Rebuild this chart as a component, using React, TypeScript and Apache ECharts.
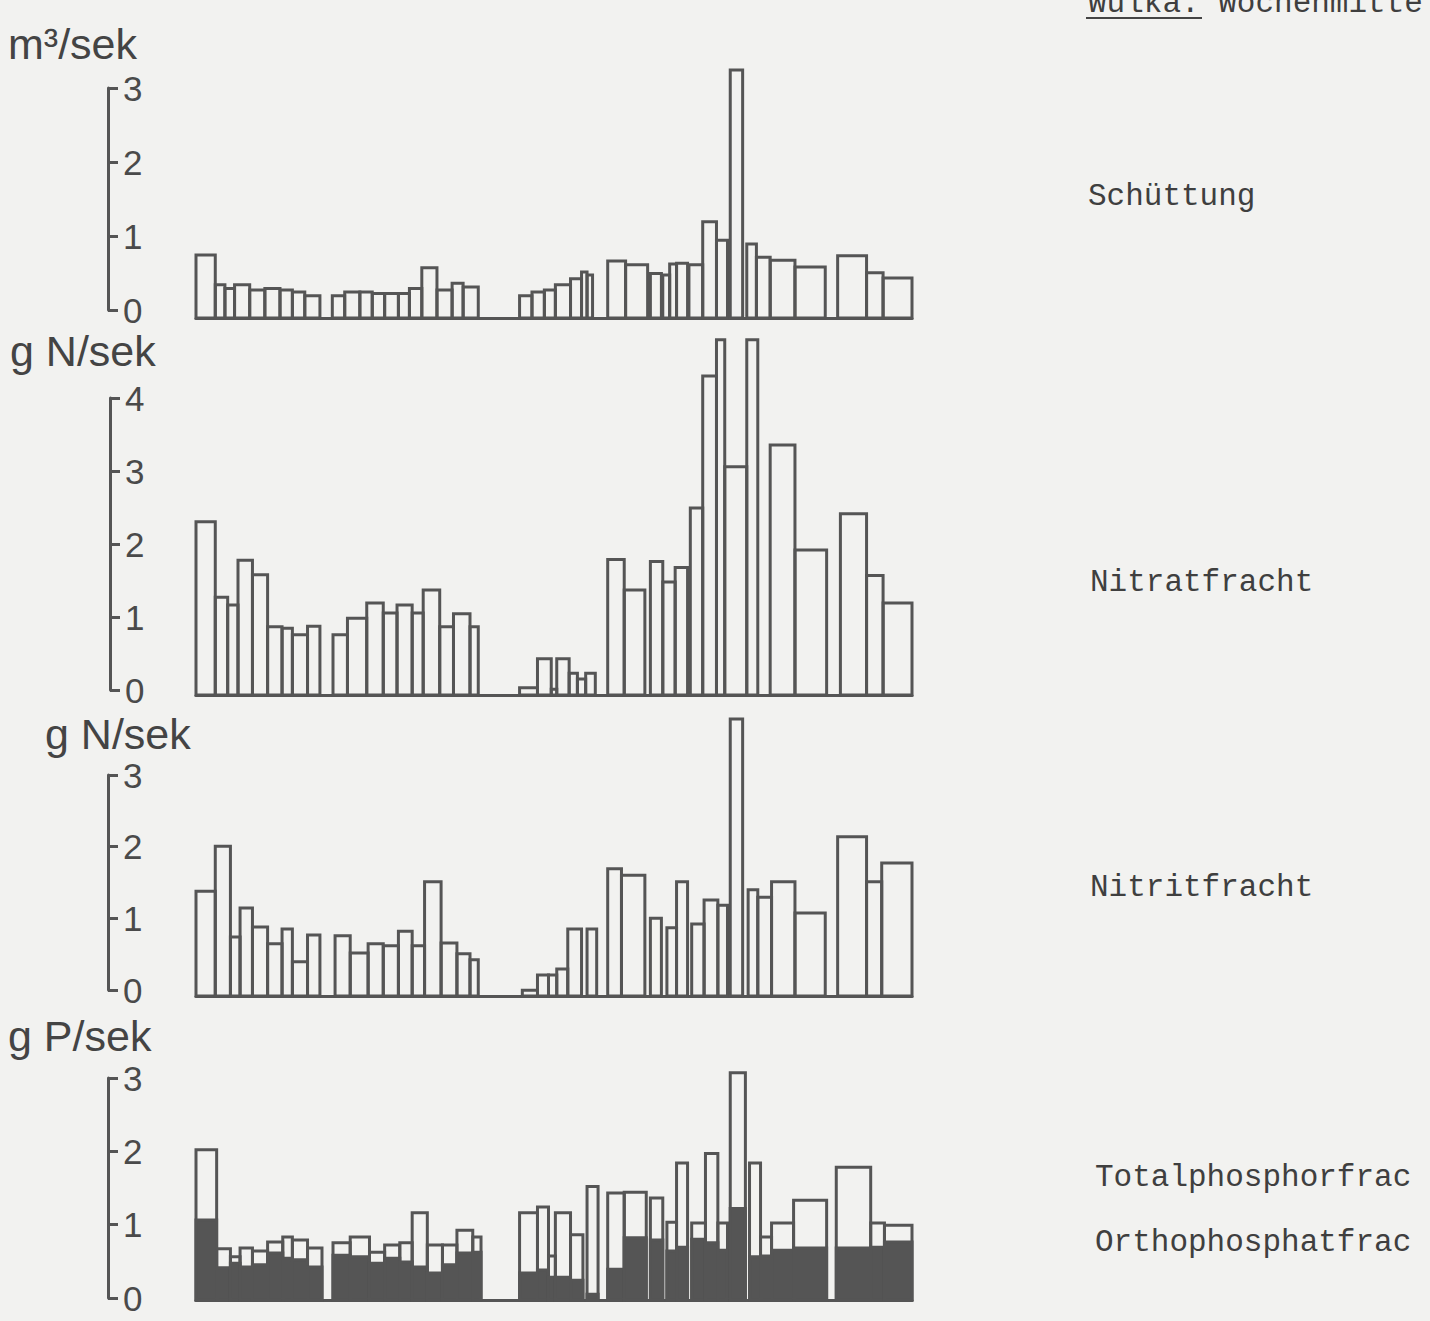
import React, { useEffect, useRef } from "react";
import * as echarts from "echarts";

// x in weeks (0..52), bars: [startWeek, endWeek, value]
const WEEKS = 52;

const schuettung: number[][] = [
  [0, 1.4, 0.85], [1.4, 2.1, 0.45], [2.1, 2.8, 0.4], [2.8, 3.9, 0.45], [3.9, 5.0, 0.38],
  [5.0, 6.1, 0.4], [6.1, 7.0, 0.38], [7.0, 7.9, 0.35], [7.9, 9.0, 0.3],
  [9.9, 10.8, 0.3], [10.8, 11.9, 0.35], [11.9, 12.8, 0.35], [12.8, 13.7, 0.33], [13.7, 14.7, 0.33],
  [14.7, 15.5, 0.33], [15.5, 16.4, 0.4], [16.4, 17.5, 0.68], [17.5, 18.6, 0.38], [18.6, 19.4, 0.47],
  [19.4, 20.5, 0.42],
  [23.5, 24.4, 0.3], [24.4, 25.3, 0.35], [25.3, 26.1, 0.38], [26.1, 27.2, 0.45], [27.2, 28.0, 0.53],
  [28.0, 28.4, 0.62], [28.4, 28.8, 0.58],
  [29.9, 31.2, 0.77], [31.2, 32.8, 0.72], [33.0, 33.8, 0.6], [33.9, 34.4, 0.58], [34.4, 34.9, 0.73],
  [34.9, 35.7, 0.74], [35.8, 36.8, 0.72], [36.8, 37.8, 1.3], [37.8, 38.6, 1.05], [38.8, 39.7, 3.35],
  [40.0, 40.7, 1.0], [40.7, 41.7, 0.82], [41.7, 43.5, 0.78], [43.5, 45.7, 0.69],
  [46.6, 48.7, 0.84], [48.7, 49.9, 0.61], [49.9, 52.0, 0.54],
];

const nitrat: number[][] = [
  [0, 1.4, 2.39], [1.4, 2.3, 1.35], [2.3, 3.05, 1.24], [3.05, 4.1, 1.86], [4.1, 5.2, 1.66],
  [5.2, 6.25, 0.94], [6.25, 7.0, 0.92], [7.0, 8.1, 0.83], [8.1, 9.0, 0.95],
  [9.95, 11.0, 0.83], [11.0, 12.4, 1.06], [12.4, 13.6, 1.27], [13.6, 14.6, 1.13], [14.6, 15.7, 1.24],
  [15.7, 16.5, 1.13], [16.5, 17.7, 1.45], [17.7, 18.7, 0.94], [18.7, 19.9, 1.12], [19.9, 20.5, 0.94],
  [23.5, 24.8, 0.1], [24.8, 25.8, 0.5], [25.8, 26.2, 0.08], [26.2, 27.1, 0.5], [27.1, 27.7, 0.3],
  [27.7, 28.3, 0.22], [28.3, 29.0, 0.3],
  [29.9, 31.1, 1.87], [31.1, 32.6, 1.45], [33.0, 33.9, 1.84], [33.9, 34.8, 1.56], [34.8, 35.7, 1.76],
  [35.9, 36.8, 2.58], [36.8, 37.8, 4.4], [37.8, 38.4, 4.9], [38.4, 40.0, 3.15], [40.0, 40.8, 4.9],
  [41.7, 43.5, 3.45], [43.5, 45.8, 2.0],
  [46.8, 48.7, 2.5], [48.7, 49.9, 1.65], [49.9, 52.0, 1.27],
];

const nitrit: number[][] = [
  [0, 1.4, 1.44], [1.4, 2.5, 2.06], [2.5, 3.2, 0.81], [3.2, 4.1, 1.21], [4.1, 5.2, 0.95],
  [5.2, 6.25, 0.72], [6.25, 7.0, 0.92], [7.0, 8.1, 0.47], [8.1, 9.0, 0.84],
  [10.1, 11.2, 0.83], [11.2, 12.5, 0.59], [12.5, 13.6, 0.72], [13.6, 14.7, 0.69], [14.7, 15.7, 0.89],
  [15.7, 16.6, 0.69], [16.6, 17.8, 1.57], [17.8, 18.95, 0.73], [18.95, 19.9, 0.58], [19.9, 20.5, 0.5],
  [23.7, 24.8, 0.08], [24.8, 25.6, 0.29], [25.6, 26.2, 0.29], [26.2, 27.0, 0.37], [27.0, 28.0, 0.92],
  [28.4, 29.1, 0.92],
  [29.9, 30.9, 1.75], [30.9, 32.6, 1.66], [33.0, 33.8, 1.07], [34.2, 34.9, 0.94], [34.9, 35.7, 1.57],
  [36.0, 36.9, 0.99], [36.9, 37.9, 1.32], [37.9, 38.6, 1.25], [38.8, 39.7, 3.81],
  [40.1, 40.8, 1.46], [40.8, 41.8, 1.36], [41.8, 43.5, 1.57], [43.5, 45.7, 1.14],
  [46.6, 48.7, 2.19], [48.7, 49.8, 1.57], [49.8, 52.0, 1.83],
];

// [startWeek, endWeek, totalP, orthoP]
const phosphor: number[][] = [
  [0, 1.5, 2.05, 1.09], [1.5, 2.5, 0.7, 0.44], [2.5, 3.2, 0.59, 0.5], [3.2, 4.1, 0.71, 0.45],
  [4.1, 5.2, 0.67, 0.48], [5.2, 6.3, 0.79, 0.64], [6.3, 7.0, 0.86, 0.57], [7.0, 8.1, 0.82, 0.55],
  [8.1, 9.15, 0.71, 0.45],
  [9.95, 11.2, 0.78, 0.61], [11.2, 12.6, 0.86, 0.59], [12.6, 13.7, 0.65, 0.5], [13.7, 14.8, 0.75, 0.57],
  [14.8, 15.7, 0.78, 0.52], [15.7, 16.8, 1.19, 0.45], [16.8, 17.9, 0.75, 0.37], [17.9, 18.95, 0.75, 0.48],
  [18.95, 20.1, 0.95, 0.64], [20.1, 20.7, 0.86, 0.65],
  [23.5, 24.8, 1.19, 0.37], [24.8, 25.6, 1.27, 0.41], [25.6, 26.1, 0.6, 0.31], [26.1, 27.2, 1.19, 0.31],
  [27.2, 28.1, 0.89, 0.27], [28.4, 29.2, 1.55, 0.08],
  [29.9, 31.1, 1.46, 0.42], [31.1, 32.7, 1.47, 0.85], [33.0, 33.9, 1.39, 0.82], [34.2, 34.9, 1.06, 0.67],
  [34.9, 35.7, 1.87, 0.72], [36.0, 37.0, 1.05, 0.83], [37.0, 37.9, 2.0, 0.78], [37.9, 38.6, 1.05, 0.68],
  [38.8, 39.9, 3.1, 1.25], [40.2, 41.0, 1.87, 0.59], [41.0, 41.8, 0.86, 0.6], [41.8, 43.4, 1.05, 0.68],
  [43.4, 45.8, 1.36, 0.71], [46.5, 49.0, 1.81, 0.71], [49.0, 50.0, 1.05, 0.72], [50.0, 52.0, 1.02, 0.79],
];

const unitLabels = ["m³/sek", "g N/sek", "g N/sek", "g P/sek"];
const axisMax = [3, 4, 3, 3];
const seriesNames = ["Schüttung", "Nitratfracht", "Nitritfracht", "Totalphosphorfrac", "Orthophosphatfrac"];
const titleWord = "Wulka:";
const titleRest = "Wochenmitte";

const INK = "#555555";
const PAPER = "#f2f2f0";
const SANS = '"Liberation Sans", "DejaVu Sans", sans-serif';
const MONO = '"Liberation Mono", "DejaVu Sans Mono", monospace';

// layout (pixels)
const BAR_LEFT = 196;
const BAR_WIDTH = 716;
const layout = [
  { baseline: 318, unitPx: 74, axisX: 108, axisTop: 88, axisBottom: 310, unitX: 8, unitY: 44, labelShift: 6 },
  { baseline: 695, unitPx: 72.5, axisX: 110, axisTop: 398, axisBottom: 690, unitX: 10, unitY: 351, labelShift: 0 },
  { baseline: 996, unitPx: 72.7, axisX: 108, axisTop: 775, axisBottom: 990, unitX: 45, unitY: 734, labelShift: 6 },
  { baseline: 1300, unitPx: 73.3, axisX: 108, axisTop: 1078, axisBottom: 1298, unitX: 8, unitY: 1036, labelShift: 6 },
];

function outlineBars(params: any, api: any) {
  const s = api.value(0);
  const e = api.value(1);
  const v = api.value(2);
  const p0 = api.coord([s, 0]);
  const p1 = api.coord([e, v]);
  return {
    type: "rect",
    shape: { x: p0[0], y: p1[1], width: p1[0] - p0[0], height: p0[1] - p1[1] },
    style: { fill: "none", stroke: INK, lineWidth: 3 },
  };
}

function phosphorBars(params: any, api: any) {
  const s = api.value(0);
  const e = api.value(1);
  const t = api.value(2);
  const o = api.value(3);
  const p0 = api.coord([s, 0]);
  const pt = api.coord([e, t]);
  const po = api.coord([e, o]);
  return {
    type: "group",
    children: [
      {
        type: "rect",
        shape: { x: p0[0], y: pt[1], width: pt[0] - p0[0], height: p0[1] - pt[1] },
        style: { fill: "none", stroke: INK, lineWidth: 3 },
      },
      {
        type: "rect",
        shape: { x: p0[0], y: po[1], width: po[0] - p0[0], height: p0[1] - po[1] },
        style: { fill: INK, stroke: INK, lineWidth: 3 },
      },
    ],
  };
}

export default function App() {
  const ref = useRef<HTMLDivElement>(null);

  useEffect(() => {
    document.body.style.margin = "0";
    document.body.style.background = PAPER;
    if (!ref.current) return;
    const chart = echarts.init(ref.current, null, { renderer: "svg" });

    const grids: any[] = [];
    const xAxes: any[] = [];
    const yAxes: any[] = [];
    layout.forEach((l, i) => {
      const h = axisMax[i] * l.unitPx;
      grids.push({ left: BAR_LEFT, width: BAR_WIDTH, top: l.baseline - h, height: h });
      xAxes.push({
        type: "value", gridIndex: i, min: 0, max: WEEKS,
        axisLine: { show: true, lineStyle: { color: INK, width: 3 } },
        axisTick: { show: false }, axisLabel: { show: false }, splitLine: { show: false },
      });
      yAxes.push({ type: "value", gridIndex: i, min: 0, max: axisMax[i], show: false });
    });
    layout.forEach((l, i) => {
      const gi = grids.length;
      grids.push({ left: l.axisX, width: 20, top: l.axisTop, height: l.axisBottom - l.axisTop });
      xAxes.push({ type: "value", gridIndex: gi, min: 0, max: 1, show: false });
      yAxes.push({
        type: "value", gridIndex: gi, min: 0, max: axisMax[i], interval: 1, position: "left",
        axisLine: { show: true, lineStyle: { color: INK, width: 3 } },
        axisTick: { show: true, inside: true, length: 10, lineStyle: { color: INK, width: 3 } },
        axisLabel: {
          show: true, inside: true, margin: 15, fontSize: 35, color: "#4a4a4a", fontFamily: SANS,
          padding: [l.labelShift, 0, 0, 0],
        },
        splitLine: { show: false },
      });
    });

    const series: any[] = [schuettung, nitrat, nitrit].map((d, i) => ({
      type: "custom", name: seriesNames[i], xAxisIndex: i, yAxisIndex: i,
      data: d, encode: { x: [0, 1], y: 2 }, renderItem: outlineBars, clip: false, silent: true,
    }));
    series.push({
      type: "custom", name: seriesNames[3], xAxisIndex: 3, yAxisIndex: 3,
      data: phosphor, encode: { x: [0, 1], y: [2, 3] }, renderItem: phosphorBars, clip: false, silent: true,
    });

    const graphic: any[] = [];
    layout.forEach((l, i) => {
      graphic.push({
        type: "text", x: l.unitX, y: l.unitY,
        style: { text: unitLabels[i], font: `43px ${SANS}`, fill: "#444", verticalAlign: "middle" },
      });
    });
    const rightLabels = [
      { t: seriesNames[0], x: 1088, y: 196 },
      { t: seriesNames[1], x: 1090, y: 582 },
      { t: seriesNames[2], x: 1090, y: 887 },
      { t: seriesNames[3], x: 1095, y: 1177 },
      { t: seriesNames[4], x: 1095, y: 1242 },
    ];
    rightLabels.forEach((r) => {
      graphic.push({
        type: "text", x: r.x, y: r.y,
        style: { text: r.t, font: `31px ${MONO}`, fill: "#3f3f3f", verticalAlign: "middle" },
      });
    });
    graphic.push({
      type: "text", x: 1088, y: 3,
      style: { text: titleWord + " " + titleRest, font: `31px ${MONO}`, fill: "#3f3f3f", verticalAlign: "middle" },
    });
    graphic.push({
      type: "line", shape: { x1: 1086, y1: 18, x2: 1202, y2: 18 },
      style: { stroke: "#444", lineWidth: 2 },
    });

    chart.setOption({
      animation: false,
      backgroundColor: PAPER,
      grid: grids,
      xAxis: xAxes,
      yAxis: yAxes,
      series,
      graphic,
    });
    return () => chart.dispose();
  }, []);

  return <div ref={ref} style={{ width: 1430, height: 1321 }} />;
}
